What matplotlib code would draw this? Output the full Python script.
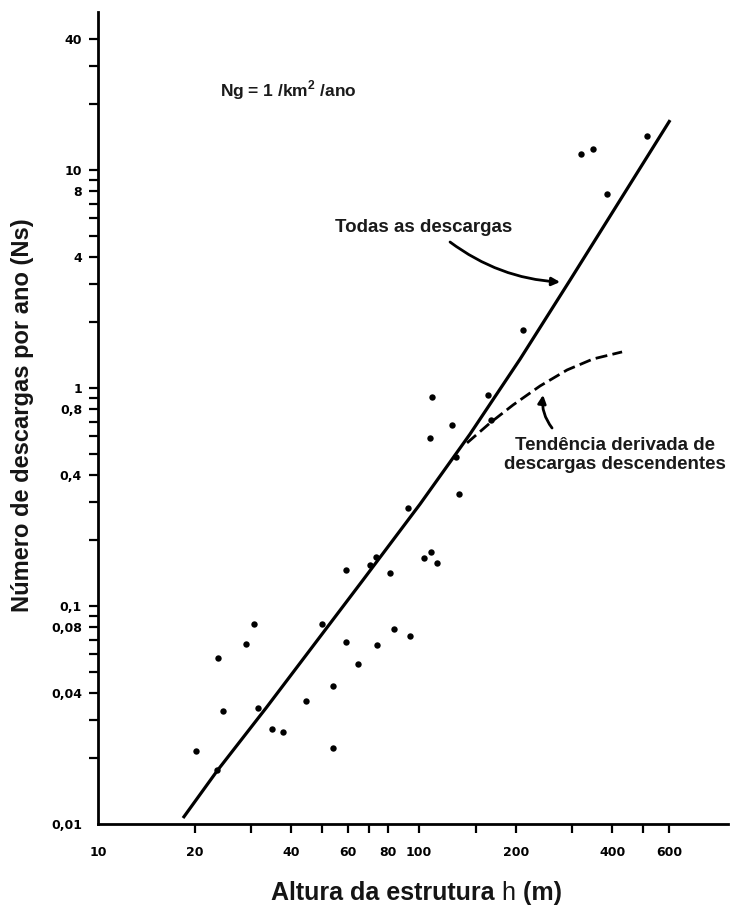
import matplotlib
matplotlib.use("Agg")
import matplotlib.pyplot as plt
from matplotlib.ticker import FixedLocator, FixedFormatter, NullFormatter

plt.rcParams['font.family'] = ['Liberation Sans', 'DejaVu Sans']
plt.rcParams['mathtext.fontset'] = 'custom'
plt.rcParams['mathtext.rm'] = 'Liberation Sans:bold'
plt.rcParams['mathtext.bf'] = 'Liberation Sans:bold'

# Observed structures: height (m) and strikes per year
heights = [20.2, 23.5, 23.7, 24.5, 29.0, 30.7, 31.5, 34.9, 37.8, 44.4,
           49.9, 54.1, 54.1, 59.2, 59.3, 64.4, 70.2, 73.6, 73.9, 81.4,
           83.8, 93.7, 92.6, 103.4, 108.2, 109.2, 110.0, 113.8, 126.7, 130.0,
           132.9, 164.0, 167.0, 211.0, 320.0, 347.0, 386.0, 514.0]
strikes = [0.0217, 0.0176, 0.0577, 0.033, 0.0667, 0.083, 0.034, 0.0274, 0.0263, 0.0367,
           0.0824, 0.0431, 0.0222, 0.0682, 0.1467, 0.0544, 0.1534, 0.168, 0.0664, 0.142,
           0.0784, 0.073, 0.28, 0.1655, 0.591, 0.176, 0.912, 0.157, 0.679, 0.483,
           0.325, 0.926, 0.71, 1.85, 11.8, 12.5, 7.77, 14.3]

# Trend for all strikes
all_h = [18.4, 23.48, 33.38, 66.92, 100.7, 144.1, 206.4, 295.4, 422.9, 605.3]
all_n = [0.01065, 0.0175, 0.03405, 0.1316, 0.2931, 0.6139, 1.356, 3.123, 7.268, 16.92]

# Trend derived from downward strikes
down_h = [141.1, 166.4, 196.3, 238.2, 289.1, 348.4, 429.0]
down_n = [0.5594, 0.6909, 0.8356, 1.021, 1.209, 1.358, 1.463]

x_major = [10, 20, 40, 60, 80, 100, 200, 400, 600]
x_major_labels = ['10', '20', '40', '60', '80', '100', '200', '400', '600']
x_minor = [30, 50, 70, 150, 300, 500]

y_major = [0.01, 0.04, 0.08, 0.1, 0.4, 0.8, 1, 4, 8, 10, 40]
y_major_labels = ['0,01', '0,04', '0,08', '0,1', '0,4', '0,8', '1', '4', '8', '10', '40']
y_minor = [0.02, 0.03, 0.05, 0.06, 0.07, 0.09, 0.2, 0.3, 0.5, 0.6, 0.7, 0.9,
           2, 3, 5, 6, 7, 9, 20, 30]

fig = plt.figure(figsize=(7.30, 9.05), dpi=100)
ax = fig.add_axes([98 / 730, 81 / 905, 630 / 730, 812 / 905])

ax.set_xscale('log')
ax.set_yscale('log')
ax.set_xlim(10, 917)
ax.set_ylim(0.01, 53)

ax.plot(all_h, all_n, color='black', lw=2.3, solid_capstyle='butt',
        solid_joinstyle='round', zorder=3)
ax.plot(down_h, down_n, color='black', lw=2.0, dashes=(4.3, 1.9), zorder=3)
ax.plot(heights, strikes, 'o', color='black', ms=4.6, mew=0, zorder=4)

for side in ('top', 'right'):
    ax.spines[side].set_visible(False)
for side in ('left', 'bottom'):
    ax.spines[side].set_linewidth(2.0)

ax.xaxis.set_major_locator(FixedLocator(x_major))
ax.xaxis.set_major_formatter(FixedFormatter(x_major_labels))
ax.xaxis.set_minor_locator(FixedLocator(x_minor))
ax.xaxis.set_minor_formatter(NullFormatter())
ax.yaxis.set_major_locator(FixedLocator(y_major))
ax.yaxis.set_major_formatter(FixedFormatter(y_major_labels))
ax.yaxis.set_minor_locator(FixedLocator(y_minor))
ax.yaxis.set_minor_formatter(NullFormatter())

ax.tick_params(axis='x', which='both', direction='out', length=6.5, width=1.6, pad=9,
               labelsize=9)
ax.tick_params(axis='y', which='both', direction='out', length=6.5, width=1.6, pad=5,
               labelsize=9)
for lbl in ax.get_xticklabels() + ax.get_yticklabels():
    lbl.set_fontweight('bold')
    lbl.set_fontfamily('DejaVu Sans')
ax.xaxis.get_major_ticks()[0].tick1line.set_visible(False)
ax.yaxis.get_major_ticks()[0].tick1line.set_visible(False)

# Axis titles
fig.text(23 / 730, 1 - 415 / 905, 'Número de descargas por ano (Ns)', rotation=90,
         ha='center', va='center', fontsize=17, fontweight='bold', color='#151515')
t1 = fig.text(271 / 730, 1 - 893 / 905, 'Altura da estrutura ', ha='left', va='center',
              fontsize=18, fontweight='bold', color='#151515')
t2 = ax.annotate('h', xy=(1, 0), xycoords=t1, ha='left', va='bottom',
                 fontsize=18, fontweight='normal', color='#151515')
ax.annotate(' (m)', xy=(1, 0), xycoords=t2, ha='left', va='bottom',
            fontsize=18, fontweight='bold', color='#151515')

# Annotations
ax.text(0.1937, 0.904, r'Ng = 1 /km$^{2}$ /ano', transform=ax.transAxes,
        ha='left', va='center', fontsize=12.5, fontweight='bold', color='#1a1a1a')

ax.text(0.376, 0.735, 'Todas as descargas', transform=ax.transAxes,
        ha='left', va='center', fontsize=13.5, fontweight='bold', color='#1a1a1a')
ax.annotate('', xy=(275, 3.06), xytext=(124.9, 4.67),
            arrowprops=dict(arrowstyle='-|>', color='black', lw=2.0,
                            mutation_scale=12, shrinkA=0, shrinkB=0,
                            connectionstyle='arc3,rad=0.15'))

ax.text(0.821, 0.455, 'Tendência derivada de\ndescargas descendentes',
        transform=ax.transAxes, ha='center', va='center', fontsize=13.5,
        fontweight='bold', color='#1a1a1a', linespacing=1.15)
ax.annotate('', xy=(243.4, 0.929), xytext=(259.6, 0.655),
            arrowprops=dict(arrowstyle='-|>', color='black', lw=2.0,
                            mutation_scale=12, shrinkA=0, shrinkB=0,
                            connectionstyle='arc3,rad=-0.2'))

fig.savefig('out.png', dpi=100)
